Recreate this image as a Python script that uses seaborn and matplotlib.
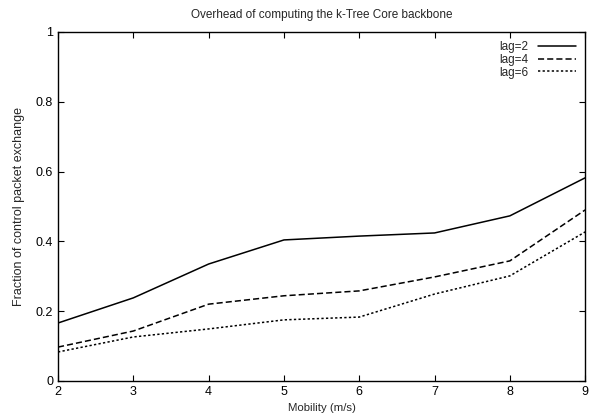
import matplotlib
matplotlib.use("Agg")
import matplotlib.pyplot as plt
import seaborn as sns
import pandas as pd

mobility = [2, 3, 4, 5, 6, 7, 8, 9]
lag2 = [0.166, 0.238, 0.335, 0.404, 0.415, 0.424, 0.473, 0.582]
lag4 = [0.097, 0.143, 0.220, 0.244, 0.258, 0.298, 0.344, 0.490]
lag6 = [0.083, 0.126, 0.149, 0.175, 0.183, 0.249, 0.301, 0.427]
labels = ["lag=2", "lag=4", "lag=6"]

sns.set_theme(style="ticks")
plt.rcParams['font.family'] = ['Liberation Sans', 'DejaVu Sans']

df = pd.DataFrame({
    "Mobility": mobility * 3,
    "value": lag2 + lag4 + lag6,
    "series": [labels[0]] * 8 + [labels[1]] * 8 + [labels[2]] * 8,
})

fig = plt.figure(figsize=(5.95, 4.2), dpi=100)
ax = fig.add_axes([0.0975, 0.093, 0.886, 0.831])
styles = {"lag=2": "-", "lag=4": (0, (4, 2)), "lag=6": (0, (1.5, 1.5))}
for lab in labels:
    sub = df[df.series == lab]
    sns.lineplot(data=sub, x="Mobility", y="value", ax=ax, color="black",
                 linewidth=1.1, linestyle=styles[lab], label=lab)

ax.set_xlim(2, 9)
ax.set_ylim(0, 1)
ax.set_xticks(mobility)
ax.set_yticks([0, 0.2, 0.4, 0.6, 0.8, 1])
ax.set_yticklabels(["0", "0.2", "0.4", "0.6", "0.8", "1"])
ax.tick_params(direction="in", top=True, right=True, labelsize=9, length=4, width=0.8, colors="black")
for s in ax.spines.values():
    s.set_linewidth(1.0)
    s.set_color("black")
ax.set_xlabel("Mobility (m/s)", fontsize=8.2, labelpad=4)
ax.set_ylabel("Fraction of control packet exchange", fontsize=9, labelpad=8)
ax.set_title("Overhead of computing the k-Tree Core backbone", fontsize=8.5, pad=10)
leg = ax.legend(loc="upper right", frameon=False, fontsize=8.5, handlelength=3.2,
                markerfirst=False, labelspacing=0.05, borderaxespad=0.4, handletextpad=0.8)
fig.savefig("out.png", dpi=100)
